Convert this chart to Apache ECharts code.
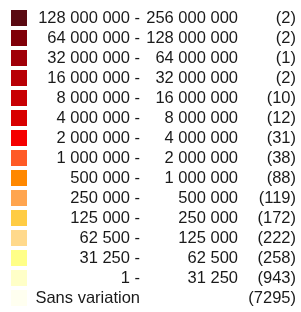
<!DOCTYPE html>
<html>
<head>
<meta charset="utf-8">
<script src="https://cdn.jsdelivr.net/npm/echarts@6/dist/echarts.min.js"></script>
<style>
  html, body { margin: 0; padding: 0; background: #fff; }
  #main { width: 301px; height: 312px; }
</style>
</head>
<body>
<div id="main"></div>
<script>
// classes de la légende
var lowerLabels = ['128 000 000', '64 000 000', '32 000 000', '16 000 000', '8 000 000', '4 000 000',
  '2 000 000', '1 000 000', '500 000', '250 000', '125 000', '62 500', '31 250', '1', 'Sans variation'];
var upperLabels = ['256 000 000', '128 000 000', '64 000 000', '32 000 000', '16 000 000', '8 000 000',
  '4 000 000', '2 000 000', '1 000 000', '500 000', '250 000', '125 000', '62 500', '31 250', ''];
var counts = [2, 2, 1, 2, 10, 12, 31, 38, 88, 119, 172, 222, 258, 943, 7295];

// palette
var colors = ['#5a0a12', '#800008', '#a00008', '#b80005', '#c80003', '#d80000', '#f50000',
  '#ff5a26', '#ff8800', '#ffa54f', '#ffcc44', '#ffd98c', '#ffff88', '#ffffc8', '#fffff0'];

var chart = echarts.init(document.getElementById('main'));

var font = 'Liberation Sans, Arial, sans-serif';
var data = counts.map(function (c, i) {
  return {
    value: [0, i],
    itemStyle: { color: colors[i], opacity: 1 }
  };
});

chart.setOption({
  backgroundColor: '#fff',
  animation: false,
  grid: { left: 19, right: 10, top: 8, height: 300 },
  xAxis: { type: 'value', min: 0, max: 1, show: false },
  yAxis: {
    type: 'category',
    inverse: true,
    data: lowerLabels,
    show: false
  },
  series: [{
    type: 'scatter',
    symbol: 'rect',
    symbolSize: [16, 16],
    itemStyle: { opacity: 1 },
    data: data,
    label: {
      show: true,
      position: 'right',
      distance: 0,
      fontFamily: font,
      fontSize: 16.5,
      color: '#1a1a1a',
      formatter: function (p) {
        var i = p.dataIndex;
        var lo = upperLabels[i] ? lowerLabels[i] + ' -' : lowerLabels[i];
        return '{lo|' + lo + '}{up|' + (upperLabels[i] || ' ') + '}{ct|(' + counts[i] + ')}';
      },
      rich: {
        lo: { width: 113, align: 'right', fontSize: 16.5, color: '#1a1a1a', fontFamily: font },
        up: { width: 98, align: 'right', fontSize: 16.5, color: '#1a1a1a', fontFamily: font },
        ct: { width: 58, align: 'right', fontSize: 16.5, color: '#1a1a1a', fontFamily: font }
      }
    }
  }]
});
</script>
</body>
</html>
